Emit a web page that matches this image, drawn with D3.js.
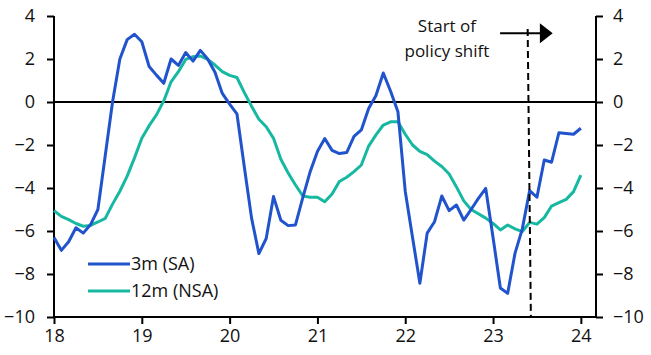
<!DOCTYPE html>
<html><head><meta charset="utf-8">
<script src="https://cdn.jsdelivr.net/npm/d3@7"></script>
<style>
body{margin:0;background:#fff;}
svg text{font-family:"Open Sans",sans-serif;fill:#111;}
</style></head>
<body><svg id="c" width="651" height="355"></svg>
<script>
// monthly, Jan 2018 .. Jan 2024 (month index 0..72)
const seriesNames = ["3m (SA)", "12m (NSA)"];
const sa3m = [-6.3,-6.9,-6.5,-5.85,-6.1,-5.7,-5.0,-2.5,0.0,2.0,2.9,3.15,
  2.8,1.65,1.25,0.87,2.0,1.7,2.3,1.9,2.4,2.0,1.38,0.4,
  -0.1,-0.55,-3.0,-5.4,-7.05,-6.35,-4.4,-5.5,-5.75,-5.72,-4.45,-3.25,
  -2.3,-1.7,-2.25,-2.4,-2.35,-1.6,-1.3,-0.3,0.3,1.35,0.5,-0.45,
  -4.15,-6.3,-8.43,-6.1,-5.57,-4.37,-5.05,-4.79,-5.49,-5.0,-4.48,-4.02,
  -6.3,-8.65,-8.9,-7.04,-5.9,-4.12,-4.43,-2.7,-2.8,-1.43,-1.46,-1.5,
  -1.22];
const nsa12m = [-5.05,-5.32,-5.47,-5.65,-5.78,-5.74,-5.58,-5.41,-4.75,-4.15,-3.45,-2.6,
  -1.69,-1.1,-0.6,0.05,0.94,1.41,1.98,2.11,2.14,1.98,1.72,1.41,
  1.24,1.14,0.45,-0.2,-0.8,-1.15,-1.69,-2.66,-3.3,-3.86,-4.37,-4.43,
  -4.43,-4.64,-4.28,-3.7,-3.5,-3.24,-2.93,-2.05,-1.53,-1.07,-0.92,-0.92,
  -1.5,-2.0,-2.3,-2.45,-2.75,-3.0,-3.35,-3.95,-4.6,-5.0,-5.2,-5.4,
  -5.65,-5.95,-5.72,-5.9,-6.03,-5.6,-5.68,-5.38,-4.84,-4.68,-4.53,-4.17,
  -3.4];
const xTickMonths = [0,12,24,36,48,60,72];
const xTickLabels = ["18","19","20","21","22","23","24"];
const yTicks = [4,2,0,-2,-4,-6,-8,-10];
const annotationText = ["Start of","policy shift"];
const policyShiftMonth = 64.95;

const colors = ["#2154cc","#17b8a2"];
const svg = d3.select("#c");
const L=54, R=596, T=16, B=317;
const x = d3.scaleLinear().domain([0,74.07]).range([L,R]);
const y = d3.scaleLinear().domain([-10,4]).range([B,T]);

const fs = "17px", fsTick = "18px";
// left axis
const yl = svg.append("g").attr("transform",`translate(${L},0)`)
  .call(d3.axisLeft(y).tickValues(yTicks).tickSize(7).tickPadding(12).tickFormat(d3.format("d")));
const yr = svg.append("g").attr("transform",`translate(${R},0)`)
  .call(d3.axisRight(y).tickValues(yTicks).tickSize(7).tickPadding(10).tickFormat(d3.format("d")));
const xb = svg.append("g").attr("transform",`translate(0,${B})`)
  .call(d3.axisBottom(x).tickValues(xTickMonths).tickSize(7).tickPadding(5)
    .tickFormat((d,i)=>xTickLabels[i]));
[yl,yr,xb].forEach(g=>{
  g.selectAll("path,line").attr("stroke","#000").attr("stroke-width",2);
  g.select(".domain").attr("d", g===xb ? `M${L},0H${R}` : `M0,${T}V${B}`);
  g.selectAll("text").style("font-size",fsTick).style("font-family","'Open Sans',sans-serif").attr("fill","#111");
});
// zero line
svg.append("line").attr("x1",L).attr("x2",R).attr("y1",y(0)).attr("y2",y(0))
  .attr("stroke","#000").attr("stroke-width",2);

const line = d3.line().x((d,i)=>x(i)).y(d=>y(d));
[nsa12m, sa3m].forEach((s,k)=>{
  svg.append("path").datum(s).attr("d",line).attr("fill","none")
    .attr("stroke", k===0?colors[1]:colors[0]).attr("stroke-width",3)
    .attr("stroke-linejoin","round");
});

// policy shift dashed line
svg.append("line").attr("x1",x(policyShiftMonth-0.22)).attr("y1",y(3.4))
  .attr("x2",x(policyShiftMonth+0.22)).attr("y2",y(-10))
  .attr("stroke","#000").attr("stroke-width",2).attr("stroke-dasharray","7,4");
// arrow
const ay = y(3.2);
svg.append("line").attr("x1",x(60.96)).attr("x2",x(66.5)).attr("y1",ay).attr("y2",ay)
  .attr("stroke","#000").attr("stroke-width",2);
svg.append("path").attr("d",`M${x(66.4)},${ay-10}L${x(68.15)},${ay}L${x(66.4)},${ay+10}Z`).attr("fill","#000");
svg.append("text").attr("x",x(53.7)).attr("y",32).attr("text-anchor","middle")
  .style("font-size",fs).text(annotationText[0]);
svg.append("text").attr("x",x(53.7)).attr("y",56.5).attr("text-anchor","middle")
  .style("font-size",fs).text(annotationText[1]);

// legend
[0,1].forEach(i=>{
  const ly = 264 + i*27;
  svg.append("line").attr("x1",88).attr("x2",130).attr("y1",ly).attr("y2",ly)
    .attr("stroke",colors[i]).attr("stroke-width",3);
  svg.append("text").attr("x",131).attr("y",ly).attr("dy","0.35em")
    .style("font-size","18px").text(seriesNames[i]);
});
</script></body></html>
